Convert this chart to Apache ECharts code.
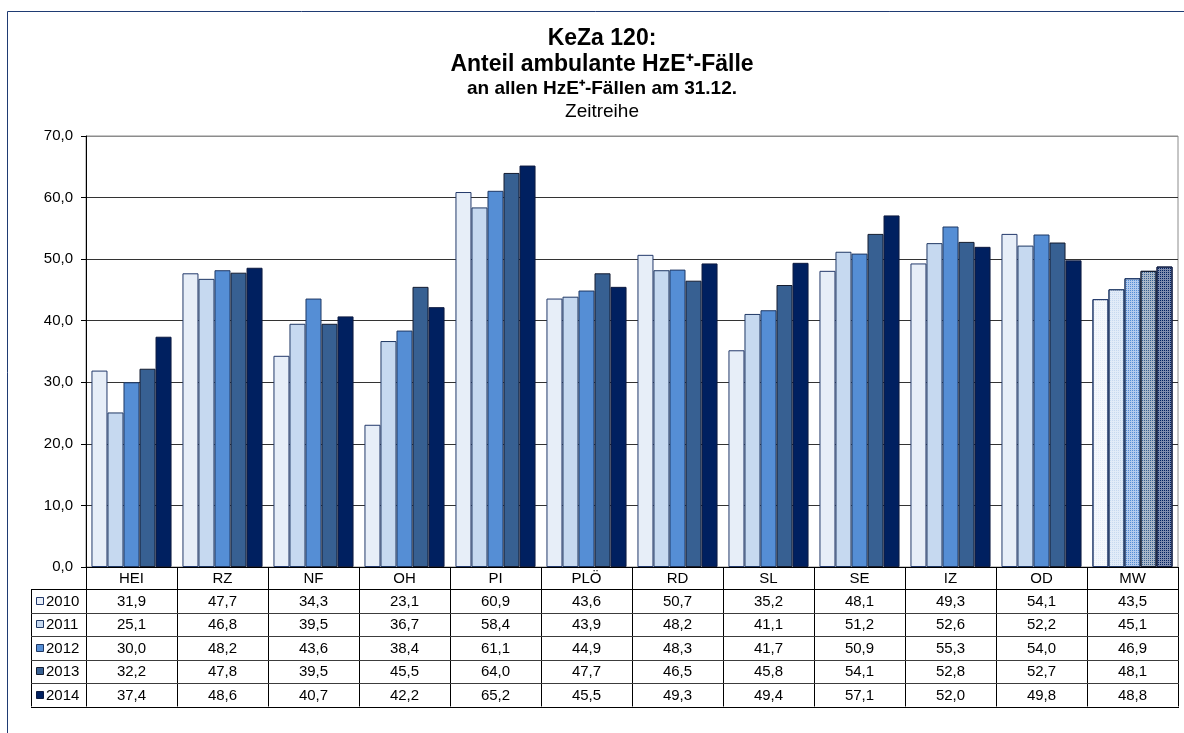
<!DOCTYPE html>
<html>
<head>
<meta charset="utf-8">
<script src="https://cdn.jsdelivr.net/npm/echarts@6/dist/echarts.min.js"></script>
<style>
  html, body { margin: 0; padding: 0; background: #fff; }
  #main { width: 1184px; height: 733px; }
</style>
</head>
<body>
<div id="main"></div>
<script>
// Daten
var categories = ['HEI', 'RZ', 'NF', 'OH', 'PI', 'PLÖ', 'RD', 'SL', 'SE', 'IZ', 'OD', 'MW'];
var years = ['2010', '2011', '2012', '2013', '2014'];
var v2010 = [31.9, 47.7, 34.3, 23.1, 60.9, 43.6, 50.7, 35.2, 48.1, 49.3, 54.1, 43.5];
var v2011 = [25.1, 46.8, 39.5, 36.7, 58.4, 43.9, 48.2, 41.1, 51.2, 52.6, 52.2, 45.1];
var v2012 = [30.0, 48.2, 43.6, 38.4, 61.1, 44.9, 48.3, 41.7, 50.9, 55.3, 54.0, 46.9];
var v2013 = [32.2, 47.8, 39.5, 45.5, 64.0, 47.7, 46.5, 45.8, 54.1, 52.8, 52.7, 48.1];
var v2014 = [37.4, 48.6, 40.7, 42.2, 65.2, 45.5, 49.3, 49.4, 57.1, 52.0, 49.8, 48.8];
var yTicks = [0, 10, 20, 30, 40, 50, 60, 70];

var values = [v2010, v2011, v2012, v2013, v2014];
var colors = ['#e7eef8', '#c6d9f0', '#558ed5', '#376092', '#002060'];
var borders = ['#23396b', '#1f3864', '#1f3864', '#141c30', '#0d1a40'];
// MW-Balken sind gemustert
var mwBase = ['#f5f8fc', '#e2ecf8', '#b3cbee', '#aab7c8', '#7f8cae'];

var FONT = "'Liberation Sans', Arial, sans-serif";
var L = 86, R = 1178, TOP = 136, BOTTOM = 567;
var cw = (R - L) / categories.length;
var headBottom = 589, rowH = 23.5, tableLeft = 31;

function fmt(v) { return v.toFixed(1).replace('.', ','); }

var chartDom = document.getElementById('main');
var myChart = echarts.init(chartDom);

var series = years.map(function (y, i) {
    return {
        name: y,
        type: 'bar',
        barGap: '0%',
        barCategoryGap: '12%',
        itemStyle: { color: colors[i], borderColor: borders[i], borderWidth: 1 },
        data: values[i].map(function (v, c) {
            if (categories[c] !== 'MW') return v;
            return {
                value: v,
                itemStyle: {
                    color: mwBase[i],
                    decal: {
                        symbol: 'rect', symbolSize: 1,
                        dashArrayX: [1, 1], dashArrayY: [1, 1],
                        color: colors[i], rotation: 0
                    }
                }
            };
        })
    };
});

// Tabelle + Rahmen + Titel als graphic
var g = [];
function line(x1, y1, x2, y2, color, w) {
    g.push({ type: 'line', silent: true, z: 10,
        shape: { x1: x1, y1: y1, x2: x2, y2: y2 },
        style: { stroke: color, lineWidth: w || 1 } });
}
function text(x, y, t, size, weight, align) {
    g.push({ type: 'text', silent: true, z: 11, x: x, y: y,
        style: { text: t, font: (weight || 'normal') + ' ' + size + 'px ' + FONT,
            fill: '#000', align: align || 'center', verticalAlign: 'middle' } });
}

// Außenrahmen
line(7.5, 11.5, 1184, 11.5, '#1f3b73', 1);
line(7.5, 11.5, 7.5, 733, '#1f3b73', 1);

// Titel
var tx = 602;
text(tx, 39, 'KeZa 120:', 23, 'bold');
text(tx, 65, 'Anteil ambulante HzE\u207A-Fälle', 23, 'bold');
text(tx, 89, 'an allen HzE\u207A-Fällen am 31.12.', 19, 'bold');
text(tx, 112, 'Zeitreihe', 19, 'normal');

var tableBottom = headBottom + rowH * years.length;
// Spaltenlinien
for (var c = 0; c <= categories.length; c++) {
    var x = Math.round(L + c * cw) + 0.5;
    line(x, BOTTOM, x, tableBottom, '#000', 1);
}
line(tableLeft + 0.5, headBottom, tableLeft + 0.5, tableBottom, '#000', 1);
// Zeilenlinien
for (var r = 0; r <= years.length; r++) {
    var yy = Math.round(headBottom + r * rowH) + 0.5;
    var outer = (r === 0 || r === years.length);
    line(tableLeft, yy, R + 1, yy, outer ? '#000' : '#3c3c3c', 1);
}
// Werte + Legende
years.forEach(function (y, i) {
    var cy = headBottom + (i + 0.5) * rowH + 1;
    g.push({ type: 'rect', silent: true, z: 11,
        shape: { x: 36.5, y: Math.round(cy) - 4.5, width: 7, height: 7 },
        style: { fill: colors[i], stroke: borders[i], lineWidth: 1 } });
    text(46, cy, y, 15, 'normal', 'left');
    values[i].forEach(function (v, c) {
        text(L + (c + 0.5) * cw, cy, fmt(v), 15, 'normal');
    });
});

var option = {
    animation: false,
    backgroundColor: '#fff',
    textStyle: { fontFamily: FONT },
    grid: {
        left: L, right: 1184 - R, top: TOP, bottom: 733 - BOTTOM,
        show: true, borderColor: '#8c8c8c', borderWidth: 1, backgroundColor: 'transparent'
    },
    xAxis: {
        type: 'category',
        data: categories,
        axisLine: { lineStyle: { color: '#000', width: 1 } },
        axisTick: { show: false },
        axisLabel: { color: '#000', fontSize: 15, fontFamily: FONT, margin: 4, interval: 0 }
    },
    yAxis: {
        type: 'value',
        min: yTicks[0],
        max: yTicks[yTicks.length - 1],
        interval: 10,
        axisLine: { show: true, lineStyle: { color: '#000', width: 1 } },
        axisTick: { show: true, length: 5, lineStyle: { color: '#000' } },
        axisLabel: { color: '#000', fontSize: 15, fontFamily: FONT, margin: 13, formatter: fmt },
        splitLine: { lineStyle: { color: ['#333', '#333', '#333', '#333', '#333', '#333', '#333', '#8c8c8c'], width: 1 } }
    },
    series: series,
    graphic: g
};
option && myChart.setOption(option);
</script>
</body>
</html>
